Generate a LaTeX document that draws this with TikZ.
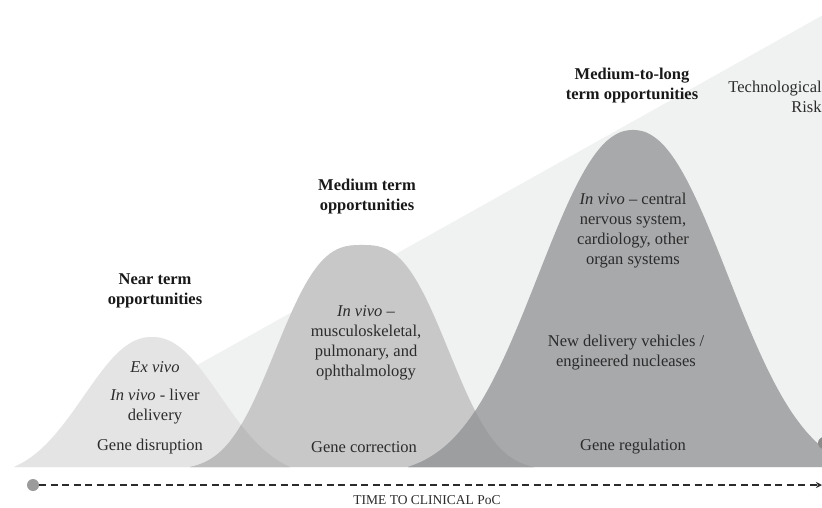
\documentclass[tikz,border=0pt]{standalone}
\usepackage{fontspec}
\setmainfont{Liberation Serif}
\usetikzlibrary{arrows.meta}

\definecolor{wedgegray}{HTML}{F0F1F1}
\definecolor{nearfill}{HTML}{E4E4E4}
\definecolor{medfill}{HTML}{C8C8C9}
\definecolor{longfill}{HTML}{A8A9AB}
\definecolor{nearmed}{HTML}{BCBCBD}
\definecolor{medlong}{HTML}{9D9E9F}
\definecolor{inkgray}{HTML}{2B2B2B}
\definecolor{dotgray}{HTML}{9B9B9B}

\tikzset{every picture/.style={line width=0.75pt}}
\tikzset{
  declare function={bell(\t,\s,\p,\w)=(exp(0-((abs(\t)/\s)^\p))-exp(0-((\w/\s)^\p)))/(1-exp(0-((\w/\s)^\p)));},
  bodytext/.style={font=\fontsize{16.5}{20}\selectfont, text=inkgray, align=center, inner sep=0pt},
  headtext/.style={font=\fontsize{16.5}{20}\selectfont\bfseries, text=black!90, align=center, inner sep=0pt},
  axisline/.style={inkgray, line width=1.6pt, dash pattern=on 7pt off 4.5pt, -{Stealth[length=6pt,width=6pt]}},
}

\begin{document}
\begin{tikzpicture}[x=1pt,y=-1pt]
\clip (0,0) rectangle (822,507);
\fill [white] (0,0) rectangle (822,507);
% risk wedge
\fill [wedgegray] (15,467) -- (850,0) -- (850,467) -- cycle;
% the three bells
\fill [nearfill] plot [domain=-138:138,samples=80,smooth] ({152+\x},{467-130*bell(\x,90,2.2,138)});
\fill [medfill] plot [domain=-172:172,samples=80,smooth] ({362+\x},{467-222*bell(\x,102,2.8,172)});
\fill [longfill] plot [domain=-225:225,samples=80,smooth] ({633+\x},{467-337*bell(\x,125,2.2,225)});
% overlaps
\begin{scope}
\clip plot [domain=-138:138,samples=80,smooth] ({152+\x},{467-130*bell(\x,90,2.2,138)});
\fill [nearmed] plot [domain=-172:172,samples=80,smooth] ({362+\x},{467-222*bell(\x,102,2.8,172)});
\end{scope}
\begin{scope}
\clip plot [domain=-172:172,samples=80,smooth] ({362+\x},{467-222*bell(\x,102,2.8,172)});
\fill [medlong] plot [domain=-225:225,samples=80,smooth] ({633+\x},{467-337*bell(\x,125,2.2,225)});
\end{scope}

% headings
\node [headtext] (nearhead) at (155,291) {Near term\\opportunities};
\node [headtext] (medhead) at (367,197) {Medium term\\opportunities};
\node [headtext] (longhead) at (632,86) {Medium-to-long\\term opportunities};
\node [bodytext, align=right, anchor=east] (risk) at (822,97) {Technological\\Risk};

% near term
\node [bodytext] (exvivo) at (155,367) {\textit{Ex vivo}};
\node [bodytext] (liver) at (155,407) {\textit{In vivo} - liver\\delivery};
\node [bodytext] (disrupt) at (150,447) {Gene disruption};
% medium term
\node [bodytext] (muscle) at (366,343) {\textit{In vivo} --\\musculoskeletal,\\pulmonary, and\\ophthalmology};
\node [bodytext] (correct) at (364,447) {Gene correction};
% medium-to-long term
\node [bodytext] (cns) at (633,231) {\textit{In vivo} -- central\\nervous system,\\cardiology, other\\organ systems};
\node [bodytext] (vehicles) at (626,353) {New delivery vehicles /\\engineered nucleases};
\node [bodytext] (regulate) at (633,447) {Gene regulation};

% time axis
\node [circle, fill=dotgray, minimum size=12pt, inner sep=0pt] (start) at (33,485) {};
\node [circle, fill=dotgray!90!black, minimum size=12pt, inner sep=0pt] (edgedot) at (824,443) {};
\coordinate (axisend) at (822,485);
\draw [axisline] (start) -- (axisend);
\node [font=\fontsize{13.5}{15}\selectfont, text=inkgray, inner sep=0pt] (axislabel) at (427,500) {TIME TO CLINICAL PoC};
\end{tikzpicture}
\end{document}
